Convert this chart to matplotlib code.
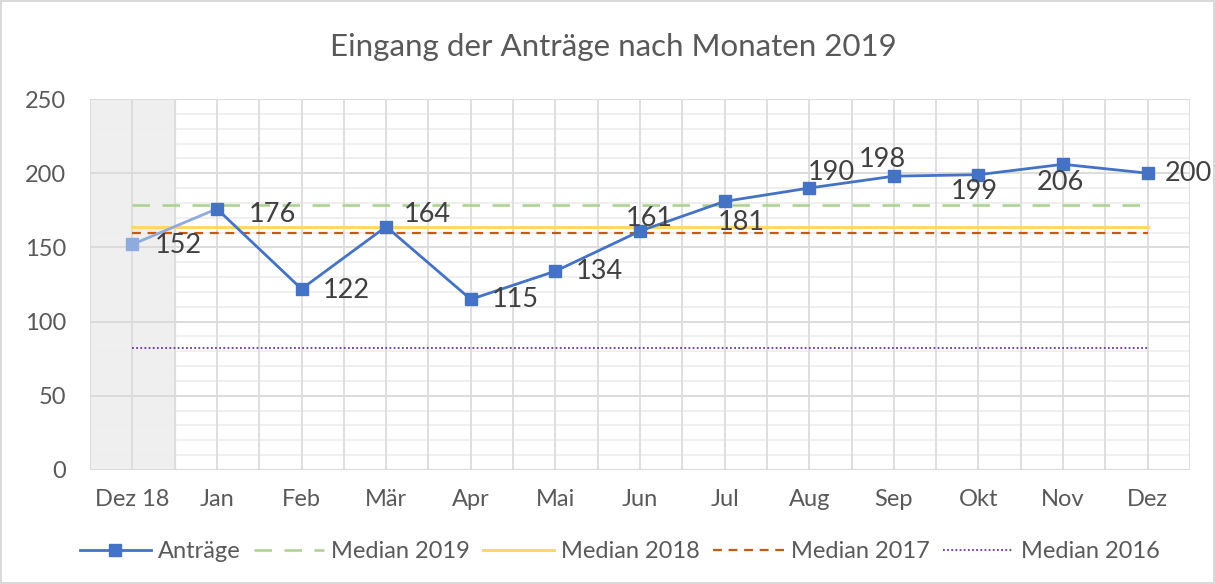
import matplotlib
matplotlib.use("Agg")
import matplotlib.pyplot as plt
from matplotlib.lines import Line2D
import numpy as np

categories = ["Dez 18", "Jan", "Feb", "Mär", "Apr", "Mai", "Jun", "Jul", "Aug", "Sep", "Okt", "Nov", "Dez"]
antraege = [152, 176, 122, 164, 115, 134, 161, 181, 190, 198, 199, 206, 200]
median_2019 = 178.5
median_2018 = 164
median_2017 = 159.5
median_2016 = 82.5
yticks = [0, 50, 100, 150, 200, 250]

# label placement (offset of label centre, in points)
label_offsets = [(33, -1), (40, -4), (32, -1), (30, 9), (32, 0), (32, 0), (7, 9),
                 (12, -15), (16, 11), (-8, 12), (-3, -12), (-2, -13), (29, 0)]

plt.rcParams['font.family'] = ['Lato', 'DejaVu Sans']
txt = "#595959"

fig = plt.figure(figsize=(12.15, 5.84), dpi=100)
fig.patch.set_facecolor("white")
fig.patch.set_edgecolor("#D9D9D9")
fig.patch.set_linewidth(1.5)
ax = fig.add_axes([90/1215, 1-470/584, 1100/1215, 371/584])

x = np.arange(len(categories))
ax.set_xlim(-0.5, len(categories)-0.5)
ax.set_ylim(0, 250)

# shaded prior-year region
ax.axvspan(-0.5, 0.5, color="#EFEFEF", zorder=0)

# grid
for v in range(0, 251, 10):
    if v % 50 == 0:
        ax.axhline(v, color="#D9D9D9", lw=1.3, zorder=1)
    else:
        ax.axhline(v, color="#EEEEEE", lw=1.3, zorder=1)
for xv in np.arange(-0.5, len(categories), 0.5):
    ax.axvline(xv, color="#DCDCDC", lw=1.3, zorder=1)

for s in ax.spines.values():
    s.set_visible(False)
ax.axhline(0, color="#D9D9D9", lw=1.5, zorder=1)

# median lines
xm = [x[0], x[-1]]
ax.plot(xm, [median_2019]*2, color="#A9D18E", lw=1.8, dashes=(7, 5), zorder=2)
ax.plot(xm, [median_2018]*2, color="#FFD966", lw=2.2, zorder=2)
ax.plot(xm, [median_2017]*2, color="#C55A11", lw=1.6, dashes=(4, 3), zorder=2)
ax.plot(xm, [median_2016]*2, color="#7030A0", lw=1.3, dashes=(1, 1.3), zorder=2)

# main series
ax.plot(x[:2], antraege[:2], color="#8FAADC", lw=2, zorder=3)
ax.plot(x[1:], antraege[1:], color="#4472C4", lw=2, zorder=3)
ax.plot(x[0], antraege[0], marker="s", ms=9, color="#8FAADC", ls="none", zorder=4)
ax.plot(x[1:], antraege[1:], marker="s", ms=9, color="#4472C4", ls="none", zorder=4)

for xi, yi, off in zip(x, antraege, label_offsets):
    ax.annotate(str(yi), (xi, yi), xytext=off, textcoords="offset points",
                fontsize=19.5, color="#404040", ha="center", va="center", zorder=5)

ax.set_xticks(x)
ax.set_xticklabels(categories, fontsize=17, color=txt)
ax.set_yticks(yticks)
ax.set_yticklabels([str(v) for v in yticks], fontsize=17, color=txt)
ax.tick_params(axis="x", length=0, pad=14)
ax.tick_params(axis="y", length=0, pad=17)

fig.text(0.505, 1-47/584, "Eingang der Anträge nach Monaten 2019", ha="center", va="center",
         fontsize=22.5, color=txt)

handles = [
    Line2D([], [], color="#4472C4", lw=2, marker="s", ms=9),
    Line2D([], [], color="#A9D18E", lw=1.8, dashes=(7, 5)),
    Line2D([], [], color="#FFD966", lw=2.2),
    Line2D([], [], color="#C55A11", lw=1.6, dashes=(4, 3)),
    Line2D([], [], color="#7030A0", lw=1.3, dashes=(1, 1.3)),
]
labels = ["Anträge", "Median 2019", "Median 2018", "Median 2017", "Median 2016"]
leg = fig.legend(handles, labels, loc="center", bbox_to_anchor=(0.51, 1-552/584), ncol=5,
                 frameon=False, fontsize=17, handlelength=3.0, columnspacing=0.55, handletextpad=0.3)
for t in leg.get_texts():
    t.set_color(txt)

fig.savefig("out.png", dpi=100)
